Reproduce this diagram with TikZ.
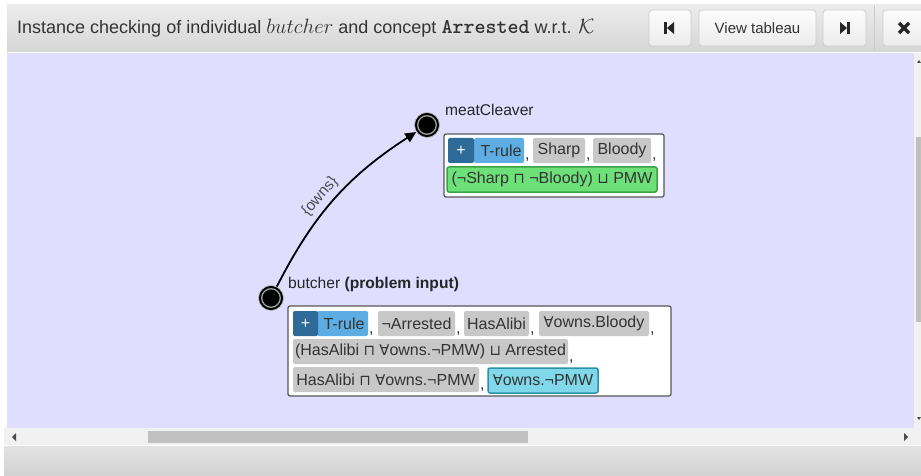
\documentclass[tikz,border=0pt]{standalone}
\usepackage{fontspec}
\setmainfont{Liberation Sans}
\newfontfamily\symf[Scale=0.92]{DejaVu Sans}
\usetikzlibrary{arrows.meta}
\definecolor{lav}{RGB}{224,222,255}
\definecolor{hdrtop}{RGB}{236,236,236}
\definecolor{hdrbot}{RGB}{214,214,214}
\definecolor{ftrtop}{RGB}{226,226,226}
\definecolor{ftrbot}{RGB}{210,210,210}
\definecolor{tagg}{RGB}{200,200,200}
\definecolor{plusb}{RGB}{47,107,153}
\definecolor{truleb}{RGB}{93,173,226}
\definecolor{greenf}{RGB}{110,224,122}
\definecolor{greend}{RGB}{60,160,70}
\definecolor{cyanf}{RGB}{128,216,234}
\definecolor{cyand}{RGB}{45,145,170}
\definecolor{txt}{RGB}{51,51,51}
\definecolor{boxb}{RGB}{85,85,85}
\definecolor{sbar}{RGB}{241,241,241}
\definecolor{thumbc}{RGB}{192,192,192}
\definecolor{btnb}{RGB}{204,204,204}
\definecolor{btntop}{RGB}{252,252,252}
\definecolor{btnbot}{RGB}{236,236,236}
\newcommand\tagf{\fontsize{16}{19}\selectfont}
\newcommand\FA{{\symf ∀}}
\newcommand\CAP{{\symf ⊓}}
\newcommand\CUP{{\symf ⊔}}
\newcommand\titlebig[1]{{\fontsize{21}{24}\selectfont #1}}
\newcommand\tagnode[7]{%
  \pgfmathsetmacro\tgw{#4-#2}\pgfmathsetmacro\tgh{#5-#3}%
  \node[#6, minimum width=\tgw pt, minimum height=\tgh pt] (#1) at ({(#2+#4)/2},{(#3+#5)/2}) {#7};}
\newcommand\commaat[3]{\node[commasty] (#1) at (#2,#3) {,};}
\tikzset{
  tagsty/.style={rectangle, rounded corners=2pt, inner sep=0pt, text=txt, font=\tagf, fill=tagg},
  plussty/.style={tagsty, fill=plusb, text=white},
  trulesty/.style={tagsty, fill=truleb},
  greensty/.style={tagsty, fill=greenf, draw=greend, line width=1.5pt},
  cyansty/.style={tagsty, fill=cyanf, draw=cyand, line width=1.5pt},
  boxsty/.style={rectangle, rounded corners=2pt, inner sep=0pt, fill=white, draw=boxb, line width=1.2pt},
  commasty/.style={anchor=base west, inner sep=0pt, text=txt, font=\tagf},
  vert/.style={circle, fill=black, draw=gray!50, line width=0.6pt, minimum size=25pt, inner sep=0pt},
  vlabel/.style={anchor=base west, inner sep=0pt, text=black!85, font=\fontsize{15.6}{18}\selectfont},
  edge/.style={line width=1.8pt, -{Triangle[length=11pt,width=10pt]}},
  elabel/.style={sloped, above, inner sep=4.5pt, font=\fontsize{15.5}{17}\selectfont, text=black!70},
  btn/.style={rectangle, rounded corners=3pt, top color=btntop, bottom color=btnbot, draw=btnb, line width=0.8pt, inner sep=0pt, text=txt, font=\fontsize{15}{18}\selectfont},
}
\begin{document}
\begin{tikzpicture}[x=1pt,y=-1pt]
\useasboundingbox (0,0) rectangle (921,476);
\fill[white] (0,0) rectangle (921,476);
% header
\shade[top color=hdrtop, bottom color=hdrbot] (7,5) rectangle (921,52);
\node[anchor=base west, inner sep=0pt, text=txt, font=\fontsize{18}{22}\selectfont] (title) at (17,34)
  {Instance checking of individual \titlebig{$butcher$} and concept \titlebig{\texttt{\bfseries Arrested}} w.r.t. \titlebig{$\mathcal{K}$}};
\tagnode{bfirst}{649}{10}{691}{46}{btn}{}
\tagnode{bview}{699}{10}{816}{46}{btn}{View tableau}
\tagnode{blast}{823}{10}{866}{46}{btn}{}
\draw[btnb, line width=0.8pt] (874,5) -- (874,52);
\begin{scope}
\clip (0,0) rectangle (921,476);
\tagnode{bclose}{883}{10}{940}{46}{btn}{}
\end{scope}
\fill[black!85] (664,22) rectangle (667,34);
\fill[black!85] (667,28) -- (674,22) -- (674,34) -- cycle;
\fill[black!85] (840,22) -- (847,28) -- (840,34) -- cycle;
\fill[black!85] (847,22) rectangle (850,34);
\draw[black!85, line width=3.2pt] (899,23) -- (909,33) (899,33) -- (909,23);
% canvas
\fill[lav] (7,53) rectangle (914,428);
\fill[sbar] (914,53) rectangle (921,428);
\fill[thumbc] (916,137) rectangle (921,322);
\fill[black!70] (917,63) -- (919,60) -- (921,63) -- cycle;
\fill[black!70] (917,417) -- (919,420) -- (921,417) -- cycle;
% horizontal scrollbar
\fill[sbar] (4,428) rectangle (921,445);
\fill[thumbc] (148,431) rectangle (528,443);
\fill[black!70] (16,433) -- (12,437) -- (16,441) -- cycle;
\fill[black!70] (904,433) -- (908,437) -- (904,441) -- cycle;
% footer
\shade[top color=ftrtop, bottom color=ftrbot] (4,446) rectangle (921,476);
% vertices
\node[vert] (m) at (427,125) {};
\draw[gray!75, line width=1.3pt] (m.center) circle[radius=9.3pt];
\node[vert] (b) at (271,298) {};
\draw[gray!75, line width=1.3pt] (b.center) circle[radius=9.3pt];
\node[vlabel] (mlab) at (445,116) {meatCleaver};
\node[vlabel] (blab) at (288,288) {butcher \textbf{(problem input)}};
% edge
\draw[edge] (b) to[bend left=15] node[elabel, pos=0.46] (olab) {\{owns\}} (m);
% meatCleaver box
\tagnode{mbox}{444}{134}{664}{197}{boxsty}{}
\tagnode{mtr}{474}{138}{524}{163}{trulesty}{\hspace{4pt}T-rule}
\tagnode{mplus}{448}{138}{474}{163}{plussty}{+}
\commaat{mc1}{525}{160}
\tagnode{msharp}{533}{138}{585}{163}{tagsty}{Sharp}
\commaat{mc2}{586}{160}
\tagnode{mbloody}{593}{138}{651}{163}{tagsty}{Bloody}
\commaat{mc3}{652}{160}
\tagnode{mgreen}{447}{167}{657}{192}{greensty}{(¬Sharp \CAP{} ¬Bloody) \CUP{} PMW}
% butcher box
\tagnode{bbox}{288}{306}{671}{396}{boxsty}{}
\tagnode{btr}{317}{311}{368}{336}{trulesty}{\hspace{3pt}T-rule}
\tagnode{bplus}{293}{311}{318}{336}{plussty}{+}
\commaat{bc1}{369}{333}
\tagnode{barr}{378}{311}{455}{336}{tagsty}{¬Arrested}
\commaat{bc2}{456}{333}
\tagnode{bhas}{464}{311}{529}{336}{tagsty}{HasAlibi}
\commaat{bc3}{530}{333}
\tagnode{bfab}{539}{311}{649}{336}{tagsty}{\FA owns.Bloody}
\commaat{bc4}{650}{333}
\tagnode{bdis}{293}{339}{568}{364}{tagsty}{(HasAlibi \CAP{} \FA owns.¬PMW) \CUP{} Arrested}
\commaat{bc5}{569}{361}
\tagnode{bcon}{293}{367}{479}{392}{tagsty}{HasAlibi \CAP{} \FA owns.¬PMW}
\commaat{bc6}{480}{389}
\tagnode{bcyan}{488}{368}{598}{393}{cyansty}{\FA owns.¬PMW}
\end{tikzpicture}
\end{document}
